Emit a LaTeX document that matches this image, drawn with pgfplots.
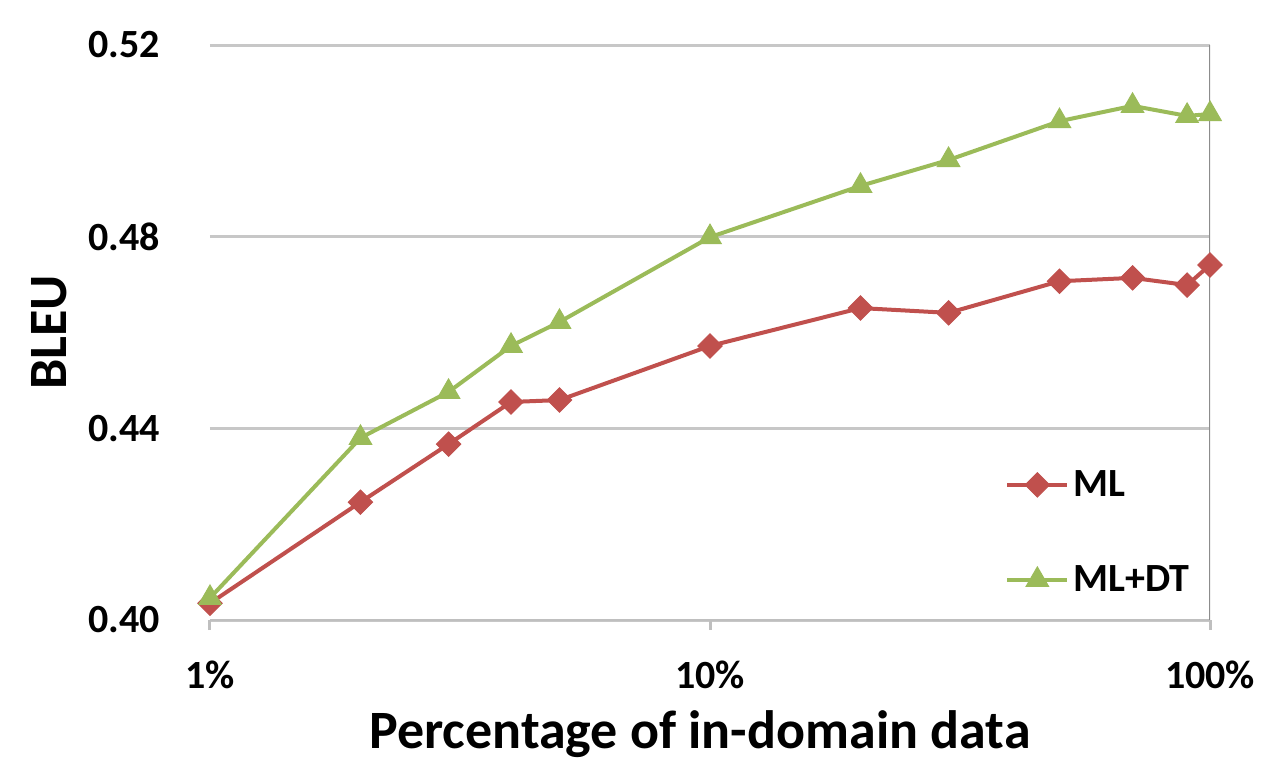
\documentclass[border=0pt]{standalone}
\usepackage{pgfplots}
\pgfplotsset{compat=1.18}
\usepackage{fontspec}
\setmainfont{Carlito}
\definecolor{mlred}{RGB}{192,80,77}
\definecolor{dtgreen}{RGB}{155,187,89}
\begin{document}
\begin{tikzpicture}
\begin{axis}[
  name=ax,
  scale only axis,
  width=500pt, height=287.5pt,
  xmode=log,
  xmin=1, xmax=100,
  ymin=0.40, ymax=0.52,
  xtick={1,10,100},
  xticklabels={\textbf{1\%},\textbf{10\%},\textbf{100\%}},
  xminorticks=false,
  ytick={0.40,0.44,0.48,0.52},
  yticklabels={\textbf{0.40},\textbf{0.44},\textbf{0.48},\textbf{0.52}},
  ymajorgrids,
  grid style={draw=black!22, line width=1.5pt},
  axis line style={draw=none},
  xtick pos=bottom,
  ytick pos=left,
  xtick style={draw=black!25, line width=1.5pt},
  ytick style={draw=none},
  xtick align=outside,
  major tick length=5pt,
  ticklabel style={font=\fontsize{20}{24}\selectfont},
  xticklabel style={yshift=-12pt},
  yticklabel style={xshift=-21.5pt},
  xlabel={\textbf{Percentage of in-domain data}},
  ylabel={\textbf{BLEU}},
  xlabel style={font=\fontsize{27}{32}\selectfont, yshift=-4pt, xshift=-5pt},
  ylabel style={font=\fontsize{27}{32}\selectfont, yshift=4pt},
  legend style={draw=none, fill=none, at={(rel axis cs:0.99,0.03)}, anchor=south east,
    font=\fontsize{20}{24}\selectfont, row sep=29pt},
  legend cell align=left,
  legend image code/.code={
    \draw[#1] (0pt,0pt) -- (30pt,0pt);
    \draw[#1, only marks] plot coordinates {(15pt,0pt)};
  },
]
\draw[black!25, line width=1.5pt] (rel axis cs:0,0) -- (rel axis cs:1,0);
\draw[black!45, line width=1pt] (rel axis cs:1,0) -- (rel axis cs:1,1);
\addplot[color=mlred, line width=2pt, mark=square*, mark size=4.3pt,
  mark options={rotate=45, line width=0.5pt}] coordinates {
(1,0.4035) (2,0.4246) (3,0.4367) (4,0.4455) (5,0.4459) (10,0.4572)
(20,0.4651) (30,0.4641) (50,0.4707) (70,0.4714) (90,0.4699) (100,0.4741)
};
\addlegendentry{\textbf{ML}}
\addplot[color=dtgreen, line width=2pt, mark=triangle*, mark size=6.5pt,
  mark options={line width=0.5pt}] coordinates {
(1,0.4046) (2,0.4380) (3,0.4476) (4,0.4572) (5,0.4622) (10,0.4799)
(20,0.4906) (30,0.4960) (50,0.5041) (70,0.5073) (90,0.5052) (100,0.5056)
};
\addlegendentry{\textbf{ML+DT}}
\end{axis}
\pgfresetboundingbox
\path ([xshift=-105pt,yshift=-79pt]ax.south west) rectangle ([xshift=33pt,yshift=22.5pt]ax.north east);
\end{tikzpicture}
\end{document}
